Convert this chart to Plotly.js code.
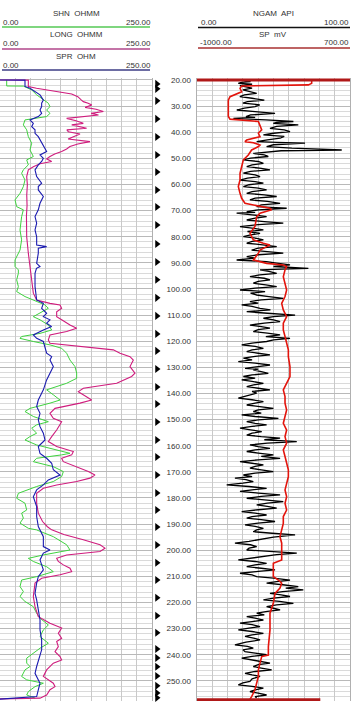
<!DOCTYPE html>
<html>
<head>
<meta charset="utf-8">
<script src="https://cdn.plot.ly/plotly-3.0.1.min.js"></script>
<style>
  html, body { margin: 0; padding: 0; background: #ffffff; }
  #chart { width: 361px; height: 702px; }
</style>
</head>
<body>
<div id="chart"></div>
<script>
// ---------------- DATA ----------------
// Depth ticks shown in the centre column
const depthTicks = [20, 30, 40, 50, 60, 70, 80, 90, 100, 110, 120, 130, 140, 150, 160, 170, 180, 190, 200, 210, 220, 230, 240, 250];

// Depths of the black flag arrows in the depth column
const flagDepths = [21.5, 23.4, 28.0, 34.9, 41.8, 48.7, 55.2, 62.1, 68.6, 75.5,
  82.8, 89.7, 96.5, 103.4, 110.3, 117.2, 123.7, 130.6, 137.5, 144.0,
  150.9, 157.8, 164.3, 171.2, 178.1, 184.6, 191.1, 198.0, 204.8, 211.4,
  218.2, 225.1, 231.6, 237.8, 241.2, 244.6, 248.1, 251.9, 254.6, 256.5];

// SHN OHMM (green)
const shnDepth = [20, 22.3, 22.35, 23.8, 25.7, 27.7, 28.9, 30.2, 31.5, 32.8,
  34.0, 35.3, 37.2, 39.1, 41.7, 44.2, 46.8, 49.3, 50.6, 52.5,
  54.4, 55.7, 58.3, 60.8, 63.4, 65.9, 68.5, 69.7, 72.3, 77.4,
  81.2, 85.1, 88.9, 91.4, 92.7, 94.0, 96.5, 99.1, 101.0, 102.9,
  104.2, 106.1, 107.4, 109.3, 110.6, 111.8, 113.8, 115.7, 117.0, 118.2,
  118.9, 120.1, 121.4, 122.7, 124.6, 127.2, 129.7, 132.2, 134.2, 136.1,
  138.6, 140.5, 142.5, 143.7, 145.7, 146.9, 148.8, 150.8, 152.0, 153.3,
  155.2, 156.5, 157.8, 159.7, 161.6, 162.9, 163.5, 164.8, 166.1, 168.0,
  169.9, 171.8, 173.7, 175.6, 178.2, 180.1, 182.0, 184.6, 185.8, 187.7,
  189.6, 191.6, 192.2, 194.8, 197.9, 199.9, 201.8, 203.1, 204.3, 206.3,
  208.2, 210.1, 211.4, 213.9, 215.8, 217.7, 219.6, 221.6, 224.1, 226.0,
  228.6, 230.5, 233.0, 235.6, 237.5, 239.4, 241.3, 243.2, 244.5, 245.8,
  248.3, 249.6, 250.9, 252.2, 254.1, 255.4, 256.6];
const shnValues = [11, 11, 38.4, 52.1, 60.3, 71.3, 79.5, 82.2, 76.7, 82.2,
  76.7, 41.1, 38.4, 43.9, 46.6, 52.1, 49.3, 54.8, 43.9, 46.6,
  38.4, 35.6, 41.1, 38.4, 32.9, 24.7, 27.4, 38.4, 35.6, 32.9,
  35.6, 32.9, 24.7, 24.7, 30.2, 30.2, 27.4, 30.2, 27.4, 41.1,
  54.8, 74.0, 79.5, 65.8, 54.8, 65.8, 79.5, 85.0, 65.8, 35.6,
  32.9, 54.8, 82.2, 101.4, 109.6, 115.1, 123.3, 126.1, 126.1, 109.6,
  76.7, 87.7, 98.7, 82.2, 49.3, 41.1, 54.8, 79.5, 60.3, 52.1,
  60.3, 49.3, 41.1, 60.3, 93.2, 115.1, 101.4, 60.3, 54.8, 87.7,
  104.2, 101.4, 87.7, 60.3, 30.2, 27.4, 41.1, 43.9, 35.6, 38.4,
  32.9, 46.6, 60, 87.7, 109.6, 115.1, 71.3, 46.6, 54.8, 76.7,
  87.7, 60.3, 35.6, 32.9, 38.4, 32.9, 41.1, 54.8, 60.3, 65.8,
  79.5, 71.3, 65.8, 79.5, 65.8, 54.8, 43.9, 43.9, 49.3, 41.1,
  35.6, 43.9, 71.3, 57.6, 46.6, 43.9, 57.6];

// LONG OHMM (magenta)
const longDepth = [20, 20.05, 22.5, 23.2, 25.4, 26.4, 27.7, 28.3, 28.9, 29.6,
  30.5, 31.2, 32.1, 32.8, 33.4, 34.7, 35.6, 36.6, 37.2, 37.9,
  38.5, 39.1, 39.8, 40.7, 41.7, 42.6, 43.6, 44.5, 45.5, 46.4,
  47.4, 48.3, 49.3, 50.2, 51.2, 52.1, 53.2, 54.4, 57.0, 60,
  64, 68, 72, 76, 80, 86.3, 91.4, 96.5, 101.6, 104.2,
  105.5, 106.1, 107.4, 108.7, 110.6, 111.8, 113.8, 115.0, 116.3, 117.6,
  119.5, 120.8, 121.4, 122.1, 123.3, 124.6, 125.9, 127.2, 129.7, 132.2,
  133.5, 136.1, 138.0, 139.3, 141.2, 142.5, 143.7, 145.7, 147.6, 149.5,
  150.8, 152.0, 154.0, 156.5, 158.4, 160.3, 162.2, 163.5, 164.8, 166.1,
  168.0, 169.9, 171.2, 172.4, 173.7, 175.0, 176.3, 178.2, 182.0, 185.8,
  189.0, 191.0, 192.2, 194.0, 196.0, 197.9, 199.2, 200.5, 201.8, 203.1,
  204.3, 205.6, 206.9, 208.2, 209.4, 210.7, 212.6, 217.7, 221.6, 225.4,
  227.9, 229.8, 231.8, 233.7, 234.9, 236.9, 238.8, 240.7, 242.0, 243.2,
  245.8, 248.3, 250.9, 252.2, 253.4, 255.4, 256.6, 256.9];
const longValues = [0, 46.6, 46.6, 60, 117.9, 128, 134, 137, 145, 151,
  140, 158, 170, 150, 162, 109.6, 125, 137, 118, 131.6,
  142.5, 110, 112.4, 131.6, 121, 112, 148, 128, 115, 109.6,
  101.4, 90, 82.2, 76.7, 85, 65.8, 54.8, 46.6, 43.9, 45,
  44, 44.5, 43.5, 44, 43.9, 46.6, 49.3, 52.1, 54.8, 60.3,
  82.2, 98.7, 101.4, 93.2, 93.2, 101.4, 115.1, 126.1, 109.6, 82.2,
  79.5, 82.2, 109.6, 142.5, 186.4, 197.4, 213.8, 219.3, 213.8, 222,
  216.5, 191.9, 137.1, 128.8, 142.5, 150.8, 131.6, 90.5, 82.2, 87.7,
  101.4, 98.7, 93.2, 85.0, 79.5, 93.2, 120.6, 117.9, 101.4, 104.2,
  126.1, 145.3, 156.2, 148.0, 126.1, 93.2, 71.3, 60.3, 60.3, 63.0,
  70, 78, 85, 105, 137, 164.5, 172.7, 164.5, 109.6, 93.2,
  95.9, 104.2, 115.1, 117.9, 98.7, 68.5, 57.6, 54.8, 57.6, 63.0,
  82.2, 101.4, 95.9, 101.4, 93.2, 95.9, 90.5, 98.7, 101.4, 87.7,
  76.7, 71.3, 87.7, 90.5, 82.2, 76.7, 65.8, 0];

// SPR OHM (blue)
const sprDepth = [20, 20.05, 22.5, 23.2, 25.7, 27.7, 28.9, 30.2, 31.5, 32.8,
  34.0, 35.3, 36.6, 37.9, 39.1, 40.4, 41.7, 43.0, 44.2, 45.5,
  47.4, 48.7, 50.0, 51.2, 52.5, 54.4, 57.0, 59.5, 60.8, 62.1,
  64.6, 67.2, 69.7, 72.3, 74.8, 77.4, 80.0, 83.2, 83.8, 84.4,
  86.3, 90.2, 91.4, 92.1, 94.0, 99.1, 104.2, 105.5, 107.4, 109.3,
  110.6, 111.8, 113.1, 114.4, 115.7, 117.6, 118.9, 120.1, 122.1, 124.6,
  125.9, 127.2, 129.7, 132.2, 134.8, 138.6, 142.5, 145.0, 147.6, 150.1,
  152.7, 155.2, 157.8, 160.3, 162.9, 164.8, 166.7, 169.2, 171.2, 173.1,
  175.0, 176.9, 179.5, 183.3, 187.1, 190.9, 194.8, 198.6, 199.9, 201.1,
  203.7, 207.5, 210.1, 212.6, 216.5, 219.0, 222.8, 226.7, 230.5, 234.3,
  238.1, 242.0, 244.5, 247.1, 250.9, 253.4, 256.0, 257.0];
const sprValues = [0, 41.1, 41.1, 49.3, 65.8, 71.3, 68.5, 68.5, 65.8, 68.5,
  63.0, 49.3, 54.8, 52.1, 57.6, 57.6, 63.0, 65.8, 68.5, 71.3,
  76.7, 65.8, 71.3, 68.5, 63.0, 57.6, 60.3, 68.5, 63.0, 63.0,
  71.3, 65.8, 63.0, 57.6, 60.3, 57.6, 60.3, 60.3, 76.7, 63.0,
  63.0, 60.3, 65.8, 60.0, 57.6, 57.6, 60.3, 71.3, 68.5, 76.7,
  71.3, 82.2, 76.7, 85.0, 71.3, 54.8, 60.3, 71.3, 74.0, 76.7,
  85.0, 82.2, 87.7, 82.2, 76.7, 71.3, 63.0, 60.3, 65.8, 63.0,
  65.8, 71.3, 74.0, 63.0, 65.8, 76.7, 85.0, 87.7, 98.7, 79.5,
  71.3, 60.3, 54.8, 60.3, 60.3, 63.0, 71.3, 71.3, 82.2, 71.3,
  65.8, 71.3, 63.0, 60.3, 57.6, 60.3, 63.0, 65.8, 65.8, 68.5,
  68.5, 63.0, 60.3, 57.6, 65.8, 63.0, 60.3, 0];

// NGAM API (black)
const ngamDepth = [
  20.0, 20.3, 20.6, 20.9, 21.3, 21.6, 21.9, 22.2, 22.5, 23.1, 23.8, 24.4, 25.1, 25.7, 26.4, 27.0, 27.7, 28.3, 28.9, 29.5,
  30.2, 30.8, 31.5, 32.1, 32.8, 33.4, 34.0, 34.3, 34.7, 35.3, 35.9, 36.2, 36.6, 36.9, 37.2, 37.8, 38.5, 39.1, 39.8, 40.4,
  41.0, 41.6, 42.3, 42.9, 43.6, 43.9, 44.2, 44.8, 45.5, 46.1, 46.8, 47.1, 47.4, 47.7, 48.1, 48.7, 49.3, 49.9, 50.6, 51.2,
  51.9, 52.5, 53.2, 53.8, 54.4, 55.0, 55.7, 56.3, 57.0, 57.6, 58.3, 58.9, 59.5, 60.1, 60.8, 61.4, 62.1, 62.7, 63.4, 64.0,
  64.6, 65.2, 65.9, 66.5, 67.2, 67.8, 68.5, 68.8, 69.1, 69.7, 70.4, 70.7, 71.0, 71.6, 72.3, 72.9, 73.6, 74.2, 74.8, 75.4,
  76.1, 76.7, 77.4, 78.0, 78.7, 79.3, 80.0, 80.6, 81.2, 81.8, 82.5, 83.1, 83.8, 84.4, 85.1, 85.7, 86.3, 86.9, 87.6, 88.2,
  88.9, 89.2, 89.5, 90.1, 90.8, 91.4, 92.1, 92.4, 92.7, 93.3, 94.0, 94.6, 95.3, 95.9, 96.5, 97.1, 97.8, 98.4, 99.1, 99.7,
  100.4, 100.7, 101.0, 101.6, 102.3, 102.9, 103.6, 104.2, 104.8, 105.4, 106.1, 106.7, 107.4, 108.0, 108.7, 109.3, 110.0, 110.6, 111.2, 111.8,
  112.5, 113.1, 113.8, 114.4, 115.0, 115.6, 116.3, 116.9, 117.6, 118.2, 118.9, 119.5, 120.1, 120.7, 121.4, 122.0, 122.7, 123.3, 124.0, 124.6,
  125.2, 125.8, 126.5, 127.1, 127.8, 128.4, 129.1, 129.7, 130.4, 130.7,
  131.0, 131.6, 132.3, 132.9, 133.5, 134.1, 134.8, 135.4, 136.1, 136.7, 137.4, 138.0, 138.6, 139.2, 139.9, 140.8, 141.8, 142.4, 143.1, 143.7,
  144.4, 145.0, 145.7, 146.3, 146.9, 147.5, 148.2, 148.8, 149.5, 150.1, 150.8, 151.4, 152.0, 152.6, 153.3, 153.9, 154.6, 155.2, 155.9, 156.5,
  157.1, 157.7, 158.4, 159.0, 159.7, 160.3, 161.0, 161.6, 162.2, 162.8, 163.5, 164.1, 164.8, 165.4, 166.1, 166.7, 167.3, 167.9, 168.6, 169.2,
  169.9, 170.5, 171.2, 171.8, 172.4, 173.0, 173.7, 174.3, 175.0, 175.6, 176.3, 176.9, 177.5, 178.1, 178.8, 179.4, 180.1, 180.7, 181.4, 182.0,
  182.6, 183.2, 183.9, 184.5, 185.2, 185.8, 186.5, 187.1, 187.7, 188.3, 189.0, 189.6, 190.3, 190.9, 191.6, 192.2, 192.9, 193.5, 194.1, 195.0,
  196.0, 196.6, 197.3, 197.9, 198.6, 199.2, 199.9, 200.5, 201.1, 201.7, 202.4, 203.0, 203.7, 204.3, 205.0, 205.6, 206.3, 206.9, 207.5, 208.1,
  208.8, 209.4, 210.1, 210.7, 211.4, 212.0, 212.6, 213.2, 213.9, 214.5, 215.2, 215.8, 216.5, 217.1, 217.7, 218.3, 219.0, 219.6, 220.3, 220.9,
  221.6, 222.2, 222.8, 223.4, 224.1, 224.7, 225.4, 226.0, 226.7, 227.3, 227.9, 228.5, 229.2, 229.8, 230.5, 231.1, 231.8, 232.4, 233.0, 233.6,
  234.3, 235.2, 236.2, 236.8, 237.5, 238.1, 238.8, 239.4, 240.0, 240.6, 241.3, 242.2, 243.2, 243.8, 244.5, 245.1, 245.8, 246.4, 247.1, 247.7,
  248.3, 249.2, 250.2, 250.8, 251.5, 252.1, 252.8, 253.4, 254.1, 254.7, 255.4, 256.0, 256.6];
const ngamValues = [
  28, 33, 35, 29, 27, 36, 34, 28, 30, 36, 30, 35, 39, 31, 28, 36, 44, 33, 30, 41,
  38, 31, 26, 38, 51, 35, 32, 38, 23.8, 45, 63.0, 52, 49.9, 58, 66.2, 52, 47.7, 57, 60.8, 50,
  43.4, 57, 54.3, 46, 39.0, 52, 70.6, 50, 45.5, 62, 94.6, 55, 47.7, 40, 36.8, 44, 46.6, 35, 30.3, 40,
  43.4, 36, 32.5, 42, 47.7, 35, 30.3, 38, 41.2, 33, 28.1, 38, 43.4, 34, 30.3, 40, 45.5, 36, 32.5, 44,
  52.1, 38, 34.6, 46, 54.3, 42, 39.0, 48, 58.6, 40, 32.5, 38, 25.9, 36, 45.5, 38, 32.5, 44, 56.4, 40,
  28.1, 36, 43.4, 33, 41.2, 35, 30.3, 39, 43.4, 36, 32.5, 43, 52.1, 40, 35.7, 46, 56.4, 40, 32.5, 38,
  25.9, 35, 45.5, 52, 60.8, 50, 72.8, 55, 41.2, 47, 52.1, 41, 34.6, 44, 47.7, 40, 36.8, 45, 52.1, 38,
  28.1, 38, 44.5, 35, 39.0, 47, 56.4, 42, 34.6, 40, 29.2, 36, 41.2, 48, 32.5, 46, 64.1, 50, 43.4, 50,
  54.3, 44, 34.6, 42, 47.7, 40, 36.8, 46, 54.3, 45, 60.8, 50, 45.5, 36, 29.2, 38, 43.4, 36, 32.5, 40,
  47.7, 38, 30.3, 36, 27.0, 38, 47.7, 40, 31.4, 40,
  36.8, 42, 46.6, 36, 30.3, 38, 29.2, 36, 43.4, 37, 32.5, 40, 47.7, 36, 39.0, 33, 27.0, 36, 43.4, 38,
  32.5, 41, 49.9, 40, 36.8, 42, 29.2, 38, 53.2, 40, 32.5, 38, 45.5, 36, 28.1, 35, 42.3, 36, 32.5, 42,
  54.3, 44, 65.2, 46, 34.6, 40, 47.7, 38, 32.5, 40, 49.9, 42, 54.3, 40, 28.1, 36, 43.4, 38, 34.6, 42,
  49.9, 38, 30.3, 36, 24.8, 32, 36.8, 30, 19.4, 34, 45.5, 36, 28.1, 40, 54.3, 42, 32.5, 44, 56.4, 46,
  39.0, 46, 52.1, 40, 29.2, 38, 45.5, 36, 32.5, 42, 51.0, 40, 31.4, 38, 43.4, 39, 36.8, 49, 64.1, 50,
  41.2, 34, 24.8, 35, 39.0, 34, 32.5, 48, 65.2, 52, 43.4, 36, 27.0, 38, 45.5, 38, 32.5, 42, 51.0, 40,
  28.1, 36, 39.0, 50, 60.8, 52, 45.5, 56, 66.2, 58, 69.5, 56, 47.7, 55, 60.8, 50, 43.4, 54, 63.0, 52,
  45.5, 50, 54.3, 46, 39.0, 44, 32.5, 38, 43.4, 36, 28.1, 36, 41.2, 34, 27.0, 36, 43.4, 36, 31.4, 37,
  41.2, 32, 24.8, 33, 36.8, 30, 31.4, 38, 45.5, 36, 29.2, 38, 47.7, 40, 36.8, 42, 48.8, 38, 31.4, 36,
  41.2, 36, 34.6, 30, 27.0, 36, 43.4, 38, 34.6, 40, 45.5, 38, 39.0];

// SP mV (red)
const spDepth = [20, 21.3, 21.9, 22.3, 23.2, 24.5, 26.4, 27.7, 34.0, 35.0,
  35.9, 37.2, 39.1, 40.4, 41.7, 43.0, 43.6, 44.0, 44.9, 45.5,
  46.8, 48.7, 50.6, 53.2, 55.7, 58.3, 60.8, 63.4, 65.3, 67.2,
  68.5, 69.1, 69.7, 71.0, 72.3, 76.1, 78.7, 81.2, 82.5, 83.2,
  83.8, 85.1, 86.3, 88.9, 90.2, 90.8, 91.4, 92.7, 95.3, 97.8,
  100.4, 102.9, 105.5, 108.0, 110.6, 113.1, 115.7, 118.2, 120.8, 123.3,
  125.9, 129.7, 133.5, 136.1, 138.6, 141.2, 143.7, 146.3, 148.8, 151.4,
  154.0, 156.5, 159.0, 161.6, 164.1, 166.7, 169.2, 171.8, 174.4, 176.9,
  179.5, 182.0, 184.6, 187.1, 189.7, 192.2, 194.8, 197.3, 199.9, 202.4,
  203.7, 205.0, 207.5, 210.1, 211.4, 212.6, 214.5, 216.5, 220.3, 224.1,
  230.5, 236.9, 240.1, 240.7, 243.2, 245.8, 248.3, 250.9, 253.4, 256.0,
  257.0];
const spValues = [274, 274, 237, -504, -522, -504, -633, -652, -652, -633,
  -318, -300, -281, -318, -300, -448, -467, -374, -300, -318,
  -393, -430, -485, -504, -522, -522, -541, -522, -504, -467,
  -300, -189, -170, -300, -337, -356, -411, -374, -263, -189,
  -226, -300, -318, -374, -226, -41, -4, -22, -41, -22,
  -4, -22, -59, -41, -4, -41, -41, -22, -4, 15,
  15, 33, 33, -4, -41, -22, -22, -4, -22, -41,
  -4, -22, -4, -41, -22, -4, 15, 15, -4, -22,
  -4, -22, -4, -41, -41, -59, -78, -59, -59, -59,
  -59, -152, -152, -152, -96, -59, -78, -133, -152, -189,
  -189, -207, -207, -281, -300, -318, -318, -337, -356, -393,
  -411];
// SP readings at the first and last samples (drawn as heavy lines across the track)
const spTopDepth = [20, 20];
const spTopValues = [-1000, 700];
const spBottomDepth = [257.2, 257.2];
const spBottomValues = [-1000, 370];

// ---------------- LAYOUT HELPERS ----------------
const W = 361, H = 702, MT = 78, MB = 1;
const PH = H - MT - MB;
const px = v => v / W;
const py = v => (H - MB - v) / PH;
const FONT = 'Liberation Sans, Arial, sans-serif';

const depthRange = [257.7, 19.25];
const minorGrid = { dtick: 2, tick0: 0, showgrid: true, gridcolor: '#dadada', gridwidth: 1, ticks: '' };

function trackY(extra) {
  return Object.assign({
    range: depthRange, dtick: 10, tick0: 0, showgrid: true, gridcolor: '#b9b9b9', gridwidth: 1,
    minor: minorGrid, showticklabels: false, ticks: '', zeroline: false,
    showline: true, mirror: true, linecolor: '#b0b0b0', linewidth: 1, fixedrange: true
  }, extra);
}

const traces = [
  { x: shnValues, y: shnDepth, xaxis: 'x', yaxis: 'y', mode: 'lines', name: 'SHN OHMM',
    line: { color: '#3fd23f', width: 1 } },
  { x: longValues, y: longDepth, xaxis: 'x', yaxis: 'y', mode: 'lines', name: 'LONG OHMM',
    line: { color: '#cf1c7d', width: 1.1 } },
  { x: sprValues, y: sprDepth, xaxis: 'x', yaxis: 'y', mode: 'lines', name: 'SPR OHM',
    line: { color: '#1a1ab0', width: 1.1 } },
  { x: ngamValues, y: ngamDepth, xaxis: 'x2', yaxis: 'y2', mode: 'lines', name: 'NGAM API',
    line: { color: '#000000', width: 1.3 } },
  { x: spValues, y: spDepth, xaxis: 'x3', yaxis: 'y2', mode: 'lines', name: 'SP mV',
    line: { color: '#e3140c', width: 1.6 } },
  { x: spTopValues, y: spTopDepth, xaxis: 'x3', yaxis: 'y2', mode: 'lines', name: 'SP top',
    line: { color: '#b01818', width: 3 } },
  { x: spBottomValues, y: spBottomDepth, xaxis: 'x3', yaxis: 'y2', mode: 'lines', name: 'SP bottom',
    line: { color: '#b01818', width: 3 } },
  { x: flagDepths.map(() => 0.5), y: flagDepths, xaxis: 'x4', yaxis: 'y3', mode: 'markers',
    name: 'flags', cliponaxis: false,
    marker: { symbol: 'triangle-right', size: 7, color: '#000000' } }
];

function ann(text, x, y, xanchor) {
  return { text: text, x: px(x), y: py(y), xref: 'paper', yref: 'paper', xanchor: xanchor,
    yanchor: 'middle', showarrow: false, font: { family: FONT, size: 8, color: '#333333' } };
}
function hline(x0, x1, y, color) {
  return { type: 'line', xref: 'paper', yref: 'paper', x0: px(x0), x1: px(x1), y0: py(y), y1: py(y),
    line: { color: color, width: 1.3 } };
}

const layout = {
  width: W, height: H,
  margin: { l: 0, r: 0, t: MT, b: MB, pad: 0 },
  paper_bgcolor: '#ffffff', plot_bgcolor: 'rgba(0,0,0,0)',
  showlegend: false,
  xaxis: { domain: [0, px(152)], range: [0, 250], anchor: 'y', dtick: 25, tick0: 0,
    showgrid: true, gridcolor: '#c9c9c9', showticklabels: false, ticks: '', zeroline: false, fixedrange: true },
  yaxis: trackY({ anchor: 'x' }),
  xaxis2: { domain: [px(197), px(350)], range: [0, 100], anchor: 'y2', dtick: 10, tick0: 0,
    showgrid: true, gridcolor: '#c9c9c9', showticklabels: false, ticks: '', zeroline: false, fixedrange: true },
  yaxis2: trackY({ anchor: 'x2', matches: 'y' }),
  xaxis3: { overlaying: 'x2', range: [-1000, 700], anchor: 'y2', showgrid: false, visible: false, fixedrange: true },
  xaxis4: { domain: [px(152), px(162)], range: [0, 1], anchor: 'y3', visible: false, fixedrange: true },
  yaxis3: { matches: 'y', range: depthRange, anchor: 'free', position: px(191), side: 'left',
    showgrid: false, showline: false, zeroline: false, ticks: '', tickmode: 'array',
    tickvals: depthTicks, ticktext: depthTicks.map(d => d.toFixed(2)),
    tickfont: { family: FONT, size: 8, color: '#333333' }, fixedrange: true },
  annotations: [
    ann('SHN  OHMM', 76, 13, 'center'), ann('0.00', 1, 22, 'left'), ann('250.00', 153, 22, 'right'),
    ann('LONG  OHMM', 76, 34.5, 'center'), ann('0.00', 1, 43.5, 'left'), ann('250.00', 153, 43.5, 'right'),
    ann('SPR  OHM', 76, 56, 'center'), ann('0.00', 1, 65, 'left'), ann('250.00', 153, 65, 'right'),
    ann('NGAM  API', 273, 13, 'center'), ann('0.00', 199, 22.5, 'left'), ann('100.00', 351, 22.5, 'right'),
    ann('SP  mV', 273, 34, 'center'), ann('-1000.00', 198, 42.5, 'left'), ann('700.00', 351, 42.5, 'right')
  ],
  shapes: [
    hline(2, 150, 27, '#55c855'),
    hline(2, 150, 49, '#b0468a'),
    hline(2, 150, 70, '#3c3c84'),
    hline(198, 350, 27.5, '#111111'),
    hline(198, 350, 48, '#a83030')
  ]
};

Plotly.newPlot('chart', traces, layout, { staticPlot: true, displayModeBar: false });
</script>
</body>
</html>
